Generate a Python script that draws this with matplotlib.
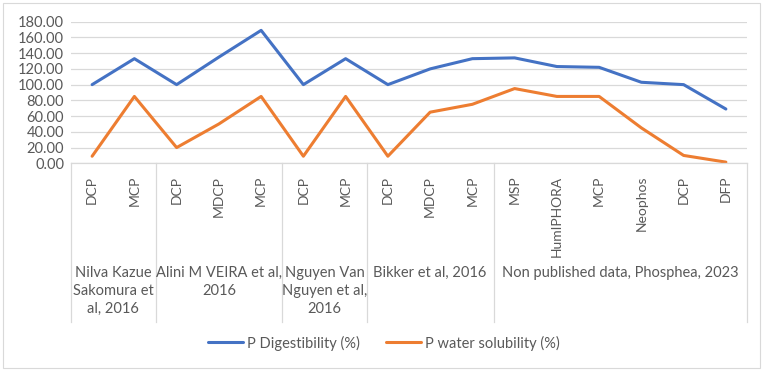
import matplotlib
matplotlib.use("Agg")
import matplotlib.pyplot as plt
from matplotlib.lines import Line2D
from matplotlib.patches import Rectangle

plt.rcParams['font.family'] = ['Lato', 'DejaVu Sans']

# data
groups = ["Nilva Kazue\nSakomura et\nal, 2016",
          "Alini M VEIRA et al,\n2016",
          "Nguyen Van\nNguyen et al,\n2016",
          "Bikker et al, 2016",
          "Non published data, Phosphea, 2023"]
group_products = [["DCP", "MCP"],
                  ["DCP", "MDCP", "MCP"],
                  ["DCP", "MCP"],
                  ["DCP", "MDCP", "MCP"],
                  ["MSP", "HumIPHORA", "MCP", "Neophos", "DCP", "DFP"]]
p_digestibility = [100, 133, 100, 135, 169, 100, 133, 100, 120, 133,
                   134, 123, 122, 103, 100, 69]
p_water_solubility = [9, 85, 20, 50, 85, 9, 85, 9, 65, 75,
                      95, 85, 85, 45, 10, 1.5]

products = [p for g in group_products for p in g]
x = list(range(len(products)))

W, H = 768, 371
fig = plt.figure(figsize=(W / 100, H / 100), dpi=100)
grey = "#595959"
gridc = "#D9D9D9"

# chart border
fig.patches.append(Rectangle((3 / W, 3 / H), 757 / W, 365 / H, transform=fig.transFigure,
                             fill=False, edgecolor=gridc, linewidth=0.8))

left, right, top, bottom = 71, 747, 21.7, 163.3
ax = fig.add_axes([left / W, 1 - bottom / H, (right - left) / W, (bottom - top) / H])
ax_h_px = bottom - top

ax.plot(x, p_digestibility, color="#4472C4", linewidth=2.2, label="P Digestibility (%)",
        solid_capstyle="round")
ax.plot(x, p_water_solubility, color="#ED7D31", linewidth=2.2, label="P water solubility (%)",
        solid_capstyle="round")

ax.set_xlim(-0.5, len(products) - 0.5)
ax.set_ylim(0, 180)
ax.set_yticks(range(0, 181, 20))
ax.set_yticklabels([f"{v:.2f}" for v in range(0, 181, 20)], fontsize=10.5, color=grey)
ax.tick_params(axis='y', length=0, pad=5)
ax.set_xticks([])
ax.grid(axis='y', color=gridc, linewidth=0.9)
ax.set_axisbelow(True)
for s in ["top", "right", "left"]:
    ax.spines[s].set_visible(False)
ax.spines["bottom"].set_color(gridc)
ax.spines["bottom"].set_linewidth(0.9)

trans = ax.get_xaxis_transform()

# product labels
for i, p in enumerate(products):
    ax.annotate(p, xy=(i, 0), xycoords=trans, xytext=(0, -12.5 * 0.72), textcoords='offset points',
                rotation=90, ha='center', va='top', fontsize=10, color=grey)

# group labels and dividers
start = 0
bounds = [-0.5]
for g, prods in zip(groups, group_products):
    mid = start + (len(prods) - 1) / 2
    ax.annotate(g, xy=(mid, 0), xycoords=trans, xytext=(0, -103 * 0.72), textcoords='offset points',
                ha='center', va='top', fontsize=10.5, color=grey, linespacing=1.35)
    start += len(prods)
    bounds.append(start - 0.5)

for b in bounds:
    ax.add_line(Line2D([b, b], [0, -159 / ax_h_px], transform=trans, color=gridc,
                       linewidth=0.9, clip_on=False))

fig.legend(loc='center', bbox_to_anchor=(0.5, 1 - 343 / H), ncol=2, frameon=False,
           fontsize=10.5, labelcolor=grey, handlelength=2.4, columnspacing=1.8, handletextpad=0.25)

fig.savefig("out.png", dpi=100)
